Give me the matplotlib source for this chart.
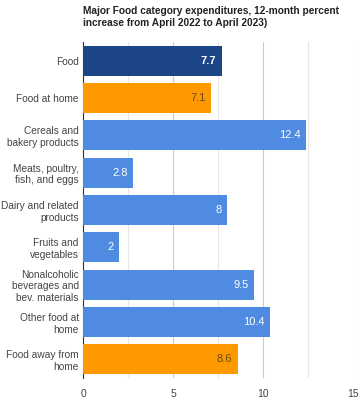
import matplotlib.pyplot as plt
from matplotlib.ticker import MultipleLocator

categories = ['Food', 'Food at home', 'Cereals and\nbakery products', 'Meats, poultry,\nfish, and eggs',
              'Dairy and related\nproducts', 'Fruits and\nvegetables', 'Nonalcoholic\nbeverages and\nbev. materials',
              'Other food at\nhome', 'Food away from\nhome']
values = [7.7, 7.1, 12.4, 2.8, 8, 2, 9.5, 10.4, 8.6]
value_labels = ['7.7', '7.1', '12.4', '2.8', '8', '2', '9.5', '10.4', '8.6']
bar_colors = ['#1c4587', '#ff9900', '#4f8be0', '#4f8be0', '#4f8be0', '#4f8be0', '#4f8be0', '#4f8be0', '#ff9900']
label_colors = ['white', '#6b4a10', 'white', 'white', 'white', 'white', 'white', 'white', '#6b4a10']

plt.rcParams['font.family'] = ['Liberation Sans', 'DejaVu Sans']

fig = plt.figure(figsize=(3.61, 4.0), dpi=100)
ax = fig.add_axes([0.23, 0.055, 0.748, 0.84])

y = list(range(len(categories)))
ax.barh(y, values, height=0.8, color=bar_colors, zorder=3)
for yi, v, lab, c in zip(y, values, value_labels, label_colors):
    ax.text(v - 0.3, yi, lab, ha='right', va='center', fontsize=8, color=c, zorder=4,
            fontweight='bold' if yi == 0 else 'normal')

ax.set_ylim(len(categories) - 0.5, -0.5)
ax.set_xlim(0, 15)
ax.set_yticks(y)
ax.set_yticklabels(categories, fontsize=7.3, color='#444444', linespacing=1.2)
ax.set_xticks([0, 5, 10, 15])
ax.xaxis.set_minor_locator(MultipleLocator(2.5))
ax.tick_params(axis='x', labelsize=7.5, colors='#444444', length=0, pad=8)
ax.tick_params(axis='y', length=0, pad=3)
ax.grid(axis='x', which='major', color='#cccccc', linewidth=0.8, zorder=0)
ax.grid(axis='x', which='minor', color='#e6e6e6', linewidth=0.8, zorder=0)
ax.tick_params(axis='x', which='minor', length=0)

for s in ['top', 'right', 'bottom']:
    ax.spines[s].set_visible(False)
ax.spines['left'].set_color('#333333')
ax.spines['left'].set_linewidth(0.8)

fig.text(0.23, 0.985, 'Major Food category expenditures, 12-month percent\nincrease from April 2022 to April 2023)',
         ha='left', va='top', fontsize=7.3, fontweight='bold', color='#222222', linespacing=1.3)

fig.savefig('out.png', dpi=100, facecolor='white')
